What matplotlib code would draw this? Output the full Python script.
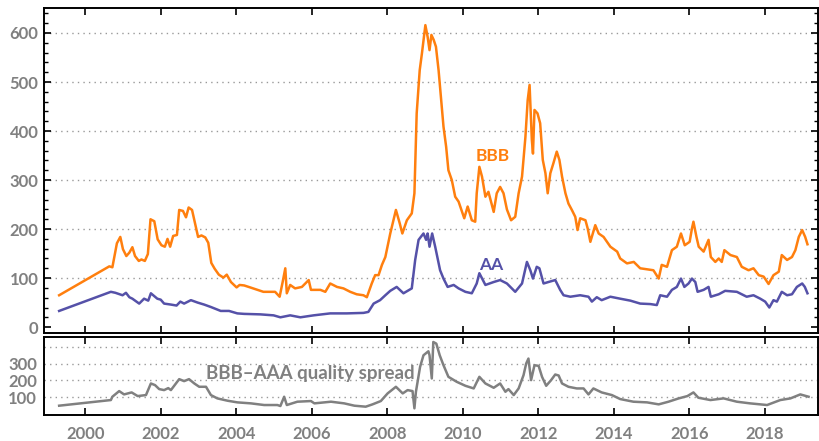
import matplotlib
matplotlib.use("Agg")
import matplotlib.pyplot as plt
from matplotlib.ticker import MultipleLocator

plt.rcParams['font.family'] = ['Lato', 'DejaVu Sans']

# BBB spread (bp), decimal years
bbb_t = [1999.31, 2000.64, 2000.72, 2000.84, 2000.93, 2001.00, 2001.09, 2001.17, 2001.25, 2001.32,
         2001.42, 2001.49, 2001.58, 2001.66, 2001.73, 2001.83, 2001.92, 2002.02, 2002.11, 2002.18,
         2002.25, 2002.33, 2002.43, 2002.49, 2002.59, 2002.67, 2002.74, 2002.83, 2002.99, 2003.08,
         2003.18, 2003.26, 2003.34, 2003.43, 2003.54, 2003.66, 2003.75, 2003.86, 2004.01, 2004.09,
         2004.21, 2004.37, 2004.72, 2005.03, 2005.15, 2005.23, 2005.30, 2005.34, 2005.43, 2005.56,
         2005.74, 2005.92, 2005.98, 2006.23, 2006.36, 2006.49, 2006.67, 2006.84, 2007.02, 2007.19,
         2007.37, 2007.46, 2007.59, 2007.68, 2007.77, 2007.86, 2007.95, 2008.08, 2008.23, 2008.33,
         2008.40, 2008.52, 2008.65, 2008.72, 2008.78, 2008.86, 2008.92, 2009.01, 2009.07, 2009.12,
         2009.17, 2009.23, 2009.29, 2009.36, 2009.42, 2009.49, 2009.56, 2009.62, 2009.71, 2009.80,
         2009.89, 2010.04, 2010.13, 2010.24, 2010.33, 2010.37, 2010.44, 2010.51, 2010.60, 2010.68,
         2010.82, 2010.90, 2010.99, 2011.08, 2011.17, 2011.28, 2011.39, 2011.48, 2011.57, 2011.66,
         2011.72, 2011.77, 2011.83, 2011.86, 2011.90, 2011.98, 2012.05, 2012.12, 2012.19, 2012.25,
         2012.32, 2012.40, 2012.49, 2012.56, 2012.63, 2012.72, 2012.80, 2012.89, 2012.98, 2013.04,
         2013.11, 2013.25, 2013.31, 2013.38, 2013.51, 2013.60, 2013.73, 2013.91, 2014.09, 2014.17,
         2014.35, 2014.53, 2014.70, 2014.88, 2015.05, 2015.19, 2015.27, 2015.41, 2015.54, 2015.67,
         2015.78, 2015.88, 2016.01, 2016.07, 2016.11, 2016.19, 2016.25, 2016.38, 2016.51, 2016.57,
         2016.69, 2016.78, 2016.86, 2016.93, 2017.09, 2017.26, 2017.39, 2017.57, 2017.70, 2017.84,
         2017.97, 2018.10, 2018.23, 2018.37, 2018.45, 2018.59, 2018.72, 2018.81, 2018.90, 2018.99,
         2019.07, 2019.13]
bbb_v = [65, 124, 122, 171, 184, 159, 145, 152, 163, 145,
         135, 138, 135, 149, 220, 216, 179, 167, 164, 180,
         164, 186, 188, 239, 237, 224, 244, 239, 184, 187,
         183, 172, 131, 119, 107, 101, 107, 92, 81, 86,
         85, 81, 72, 72, 62, 92, 120, 69, 86, 79,
         82, 96, 76, 76, 72, 89, 82, 79, 72, 67,
         65, 61, 89, 106, 106, 127, 143, 191, 239, 212,
         191, 218, 232, 273, 436, 524, 559, 616, 592, 565,
         596, 586, 572, 524, 470, 409, 368, 320, 300, 266,
         256, 222, 246, 218, 215, 273, 327, 307, 266, 276,
         235, 273, 286, 273, 240, 218, 225, 273, 307, 388,
         463, 494, 382, 354, 443, 436, 416, 341, 314, 273,
         314, 334, 358, 341, 307, 273, 252, 239, 225, 198,
         222, 218, 201, 174, 208, 191, 184, 164, 154, 140,
         130, 133, 120, 118, 116, 99, 127, 123, 157, 164,
         191, 167, 174, 201, 215, 184, 164, 154, 178, 143,
         133, 140, 133, 157, 147, 143, 123, 116, 120, 106,
         103, 88, 106, 113, 147, 137, 143, 157, 184, 198,
         184, 169]

# AA spread (bp)
aa_t = [1999.31, 2000.68, 2000.80, 2000.99, 2001.08, 2001.17, 2001.25, 2001.43, 2001.56, 2001.67,
        2001.74, 2001.91, 2002.00, 2002.09, 2002.27, 2002.42, 2002.52, 2002.62, 2002.80, 2002.98,
        2003.15, 2003.33, 2003.59, 2003.81, 2004.03, 2004.21, 2004.64, 2004.99, 2005.17, 2005.43,
        2005.70, 2006.05, 2006.49, 2006.93, 2007.37, 2007.50, 2007.64, 2007.81, 2007.95, 2008.08,
        2008.25, 2008.43, 2008.65, 2008.74, 2008.83, 2008.96, 2009.03, 2009.07, 2009.12, 2009.19,
        2009.27, 2009.40, 2009.49, 2009.60, 2009.76, 2009.89, 2010.07, 2010.24, 2010.37, 2010.44,
        2010.60, 2010.82, 2010.99, 2011.17, 2011.39, 2011.57, 2011.70, 2011.79, 2011.86, 2011.96,
        2012.03, 2012.14, 2012.27, 2012.45, 2012.58, 2012.67, 2012.85, 2013.11, 2013.33, 2013.42,
        2013.55, 2013.68, 2013.91, 2014.17, 2014.44, 2014.70, 2014.97, 2015.14, 2015.23, 2015.41,
        2015.54, 2015.67, 2015.78, 2015.87, 2015.98, 2016.07, 2016.16, 2016.22, 2016.38, 2016.51,
        2016.57, 2016.78, 2016.95, 2017.26, 2017.52, 2017.70, 2017.88, 2018.01, 2018.12, 2018.23,
        2018.32, 2018.45, 2018.59, 2018.72, 2018.85, 2018.99, 2019.06, 2019.13]
aa_v = [33, 72, 70, 65, 70, 61, 58, 48, 58, 54,
        69, 58, 56, 48, 46, 44, 52, 48, 55, 50,
        46, 41, 33, 33, 28, 27, 26, 24, 20, 24,
        20, 24, 28, 28, 29, 31, 48, 55, 65, 74,
        82, 69, 79, 137, 178, 191, 178, 191, 164, 191,
        164, 116, 99, 82, 86, 79, 72, 69, 89, 110,
        86, 92, 96, 89, 72, 89, 133, 116, 99, 123,
        120, 89, 92, 96, 76, 65, 62, 65, 62, 52,
        61, 55, 62, 58, 54, 48, 47, 45, 65, 62,
        76, 82, 99, 82, 89, 99, 92, 72, 76, 82,
        62, 67, 74, 72, 62, 65, 58, 52, 40, 55,
        52, 72, 65, 67, 82, 89, 82, 69]

# BBB-AAA quality spread (bp)
qs_t = [1999.31, 2000.68, 2000.72, 2000.90, 2001.03, 2001.23, 2001.39, 2001.61, 2001.74, 2001.85,
        2001.96, 2002.09, 2002.20, 2002.27, 2002.37, 2002.49, 2002.62, 2002.75, 2002.89, 2003.02,
        2003.20, 2003.33, 2003.50, 2003.77, 2004.03, 2004.39, 2004.74, 2005.09, 2005.17, 2005.27,
        2005.34, 2005.62, 2005.98, 2006.07, 2006.51, 2006.86, 2007.13, 2007.43, 2007.61, 2007.83,
        2008.01, 2008.23, 2008.41, 2008.54, 2008.67, 2008.72, 2008.76, 2008.87, 2008.96, 2009.09,
        2009.12, 2009.18, 2009.22, 2009.30, 2009.39, 2009.49, 2009.62, 2009.84, 2010.07, 2010.29,
        2010.44, 2010.60, 2010.82, 2010.99, 2011.13, 2011.21, 2011.35, 2011.48, 2011.61, 2011.68,
        2011.74, 2011.81, 2011.90, 2012.01, 2012.10, 2012.21, 2012.34, 2012.45, 2012.54, 2012.63,
        2012.80, 2013.02, 2013.20, 2013.33, 2013.46, 2013.68, 2013.95, 2014.17, 2014.52, 2014.88,
        2015.19, 2015.45, 2015.72, 2015.95, 2016.11, 2016.24, 2016.56, 2016.91, 2017.26, 2017.61,
        2018.06, 2018.41, 2018.68, 2018.94, 2019.16]
qs_v = [48, 82, 102, 136, 116, 128, 106, 112, 182, 172,
        148, 142, 154, 142, 172, 208, 196, 208, 182, 162,
        162, 112, 92, 78, 68, 62, 52, 52, 46, 102,
        52, 72, 76, 62, 72, 62, 48, 42, 56, 76,
        122, 162, 122, 142, 136, 32, 132, 282, 352, 376,
        352, 212, 432, 422, 352, 292, 222, 192, 168, 152,
        222, 182, 156, 182, 132, 148, 112, 152, 232, 302,
        332, 202, 292, 288, 222, 168, 202, 236, 230, 182,
        162, 152, 152, 116, 152, 128, 112, 88, 72, 68,
        56, 72, 92, 106, 128, 96, 82, 92, 72, 62,
        52, 82, 92, 116, 102]

years = list(range(2000, 2019, 2))

orange = '#FF7F0E'
purple = '#5551A8'
gray = '#808080'

fig = plt.figure(figsize=(8.2, 4.41), dpi=100)
axt = fig.add_axes([0.0537, 0.2449, 0.9439, 0.737])
axb = fig.add_axes([0.0537, 0.059, 0.9439, 0.1768])

axt.plot(bbb_t, bbb_v, color=orange, linewidth=1.8)
axt.plot(aa_t, aa_v, color=purple, linewidth=1.8)
axb.plot(qs_t, qs_v, color=gray, linewidth=1.8)

for ax in (axt, axb):
    ax.set_xlim(1998.91, 2019.41)
    ax.set_xticks(years)
    for s in ax.spines.values():
        s.set_linewidth(1.4)
    ax.tick_params(axis='x', direction='in', top=True, bottom=True, length=5, width=1.2)
    ax.tick_params(labelsize=12, labelcolor=gray)
    ax.grid(axis='y', linestyle=(0, (1, 3)), color='#999999', linewidth=1)

axt.set_ylim(-12, 651)
axt.set_yticks(range(0, 700, 100))
axt.yaxis.set_minor_locator(MultipleLocator(20))
axt.tick_params(axis='y', which='major', direction='in', left=True, right=True, length=5, width=1.2, pad=4)
axt.tick_params(axis='y', which='minor', direction='in', left=True, right=True, length=3, width=1)
axt.yaxis.get_gridlines()[0].set_visible(False)
axt.tick_params(axis='x', labelbottom=False)

axb.set_ylim(-8, 462)
axb.set_yticks([100, 200, 300, 400])
axb.set_yticklabels(['100', '200', '300', ''])
axb.tick_params(axis='y', length=0, pad=5)
axb.tick_params(axis='x', pad=8)

for ax in (axt, axb):
    for lbl in ax.get_xticklabels() + ax.get_yticklabels():
        lbl.set_fontweight('bold')

axt.text(2010.78, 349, 'BBB', color=orange, fontsize=12.5, fontweight='bold', ha='center', va='center')
axt.text(2010.75, 127, 'AA', color=purple, fontsize=12.5, fontweight='bold', ha='center', va='center')
axb.text(2005.96, 244, 'BBB\u2013AAA quality spread', color=gray, fontsize=13.5, fontweight='bold',
         ha='center', va='center')

plt.savefig('out.png', dpi=100)
